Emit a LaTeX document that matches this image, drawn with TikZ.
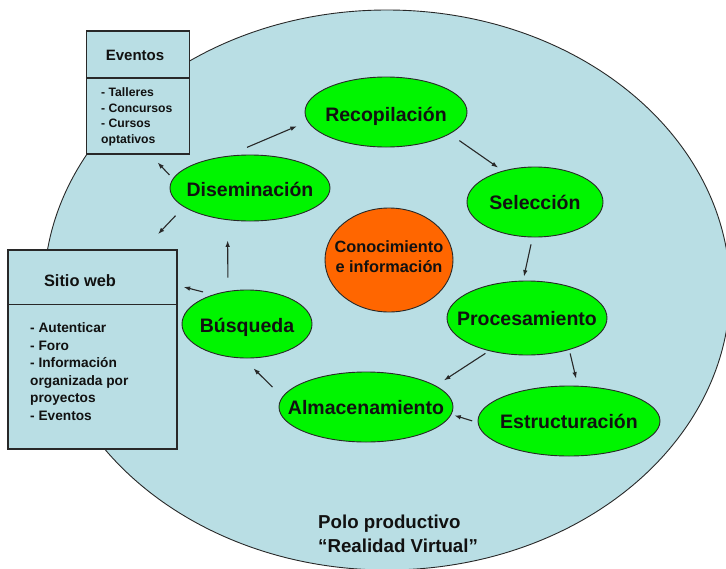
\documentclass[tikz,border=0pt]{standalone}
\usepackage{fontspec}
\setmainfont{Liberation Sans}
\usetikzlibrary{shapes.geometric,arrows.meta}

\definecolor{polofill}{RGB}{185,222,228}
\definecolor{stepgreen}{RGB}{0,245,0}
\definecolor{coreorange}{RGB}{255,102,0}
\definecolor{inkline}{RGB}{40,40,40}
\definecolor{inktext}{RGB}{17,17,17}

\begin{document}
\begin{tikzpicture}[x=1pt,y=-1pt,
  phase/.style={ellipse,draw=inkline,line width=0.9pt,fill=stepgreen,inner sep=0pt},
  lbl/.style={font=\fontsize{19.5}{22}\selectfont\bfseries,text=inktext,inner sep=0pt,
              text height=14pt,text depth=0pt},
  infobox/.style={rectangle,draw=inkline,line width=1.1pt,fill=polofill,inner sep=0pt},
  boxtitle/.style={text=inktext,inner sep=0pt,anchor=base},
  boxitem/.style={text=inktext,inner sep=0pt,anchor=base west},
  flow/.style={draw=inkline,line width=1.1pt,-{Latex[length=6.5pt,width=4.6pt]}},
  divider/.style={draw=inkline,line width=1.1pt}]

\useasboundingbox (0,0) rectangle (726,568);

% the productive pole, background region
\node[ellipse,draw=inkline,fill=polofill,line width=0.9pt,inner sep=0pt,
      minimum width=686pt,minimum height=560pt] (polo) at (387,290) {};

% process steps
\node[phase,minimum width=162pt,minimum height=70pt] (rec) at (386,112) {};
\node[phase,minimum width=136pt,minimum height=70pt] (sel) at (535,202) {};
\node[phase,minimum width=160pt,minimum height=74pt] (pro) at (527,318) {};
\node[phase,minimum width=182pt,minimum height=70pt] (est) at (569,421) {};
\node[phase,minimum width=174pt,minimum height=70pt] (alm) at (366,407) {};
\node[phase,minimum width=130pt,minimum height=68pt] (bus) at (247,324) {};
\node[phase,minimum width=160pt,minimum height=66pt] (dis) at (250,188) {};
\node[ellipse,draw=inkline,line width=0.9pt,fill=coreorange,inner sep=0pt,
      minimum width=128pt,minimum height=104pt] (core) at (389,260) {};

\node[lbl] (rec-t) at ([yshift=-2pt]rec.center) {Recopilación};
\node[lbl] (sel-t) at (sel) {Selección};
\node[lbl] (pro-t) at (pro) {Procesamiento};
\node[lbl] (est-t) at (est) {Estructuración};
\node[lbl] (alm-t) at (alm) {Almacenamiento};
\node[lbl] (bus-t) at ([yshift=-1.5pt]bus.center) {Búsqueda};
\node[lbl] (dis-t) at ([yshift=-1.5pt]dis.center) {Diseminación};
\node[font=\fontsize{16.3}{20}\selectfont\bfseries,text=inktext,align=center,inner sep=0pt]
  (core-t) at (389,257) {Conocimiento\\e información};

% side boxes
\node[infobox,minimum width=103pt,minimum height=123pt] (eve) at (138,92.5) {};
\draw[divider] ([yshift=-47.5pt]eve.north west) -- ([yshift=-47.5pt]eve.north east);
\node[boxtitle,font=\fontsize{15}{18}\selectfont\bfseries] (eve-title) at (135,60) {Eventos};
\foreach \t [count=\i from 0] in {- Talleres,- Concursos,- Cursos,optativos}
  \node[boxitem,font=\fontsize{12.2}{15}\selectfont\bfseries] (eve-\i) at ({101},{96.7+15.5*\i}) {\t};

\node[infobox,minimum width=169pt,minimum height=199pt] (web) at (92.5,349.5) {};
\draw[divider] ([yshift=-55pt]web.north west) -- ([yshift=-55pt]web.north east);
\node[boxtitle,font=\fontsize{16.4}{19}\selectfont\bfseries] (web-title) at (80,286) {Sitio web};
\foreach \t [count=\i from 0] in {- Autenticar,- Foro,- Información,organizada por,proyectos,- Eventos}
  \node[boxitem,font=\fontsize{13.7}{17}\selectfont\bfseries] (web-\i) at ({30},{332.7+17.5*\i}) {\t};

% caption of the region
\node[boxitem,font=\fontsize{18.7}{22}\selectfont\bfseries] (polo-1) at (318,528) {Polo productivo};
\node[boxitem,font=\fontsize{18.7}{22}\selectfont\bfseries] (polo-2) at (318,552) {“Realidad Virtual”};

% flow between the steps
\draw[flow,shorten <=22pt,shorten >=11.7pt] (dis.126.8) -- (rec.187.8);
\draw[flow,shorten <=11.6pt,shorten >=5.5pt] (rec.341.9) -- (sel.136.7);
\draw[flow,shorten <=7.1pt,shorten >=4.1pt] (sel.266) -- (pro.96);
\draw[flow,shorten <=4.3pt,shorten >=9.7pt] (pro.221.2) -- (alm.17.9);
\draw[flow,shorten <=3.7pt,shorten >=7.3pt] (pro.323.3) -- (est.76);
\draw[flow,shorten <=5.7pt,shorten >=3pt] (est.181.9) -- (alm.355.3);
\draw[flow,shorten <=13.8pt,shorten >=14.2pt] (alm.173) -- (bus.264.9);
\draw[flow,shorten <=13.5pt,shorten >=20.3pt] (bus.120.3) -- (dis.235.2);
\draw[flow,shorten <=10.4pt,shorten >=6.3pt] (bus.139.6) -- (web.37.7);
\draw[flow,shorten <=4.9pt,shorten >=10.9pt] (dis.173) -- (eve.281.6);
\draw[flow,shorten <=12pt,shorten >=21.2pt] (dis.196.8) -- (web.63.1);

\end{tikzpicture}
\end{document}
